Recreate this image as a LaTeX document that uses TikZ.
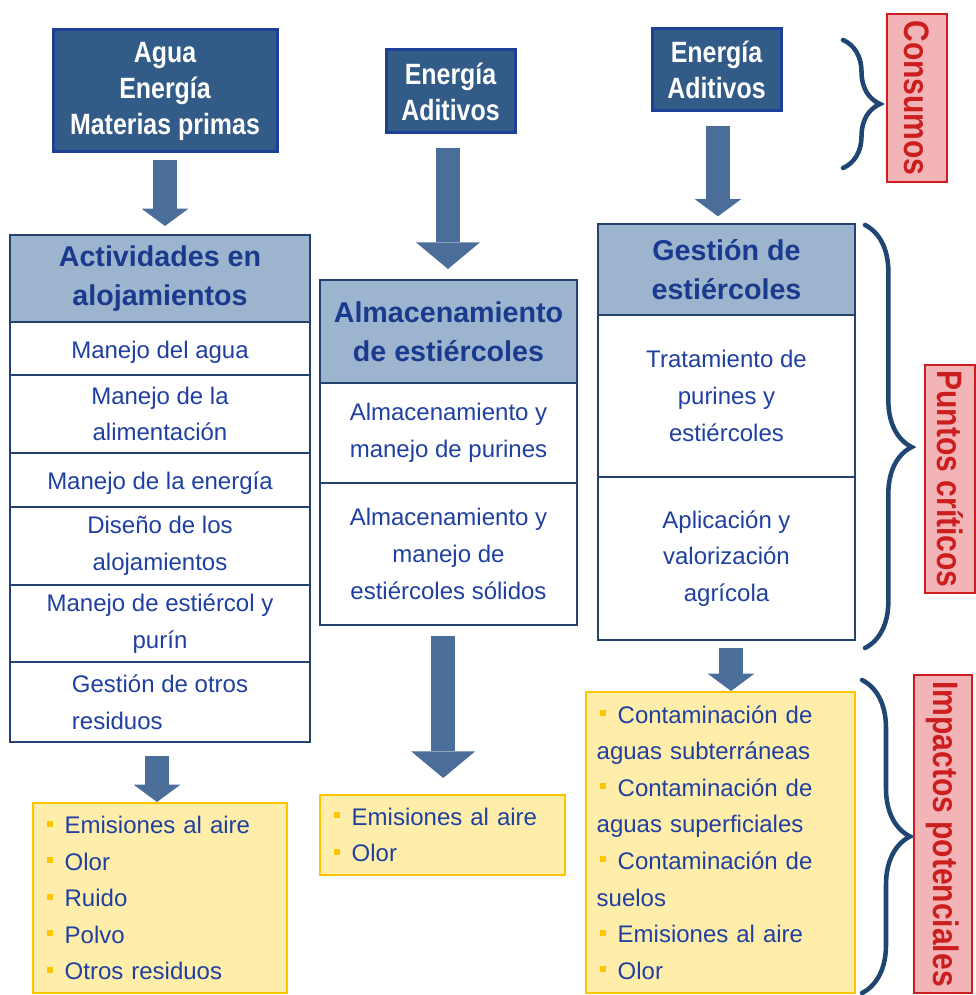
\documentclass[tikz,border=0pt]{standalone}
\usepackage{fontspec}
\setmainfont{Liberation Sans}
\newfontfamily\narrowfont[FakeStretch=0.85]{Liberation Sans}
\usetikzlibrary{arrows.meta,decorations.pathreplacing}

\definecolor{topblue}{HTML}{335B88}
\definecolor{topedge}{HTML}{1E3F96}
\definecolor{headblue}{HTML}{9DB4CE}
\definecolor{boxline}{HTML}{24426E}
\definecolor{celltext}{HTML}{1F40A0}
\definecolor{headtext}{HTML}{1A3A8E}
\definecolor{impactfill}{HTML}{FFEDAA}
\definecolor{gold}{HTML}{FFC600}
\definecolor{arrowblue}{HTML}{4A6D99}
\definecolor{bracecol}{HTML}{1F4673}
\definecolor{tagfill}{HTML}{F2B4B6}
\definecolor{tagred}{HTML}{CC1E1E}

\newcommand{\sqbul}{\hspace*{2.25pt}\textcolor{gold}{\rule[5.25pt]{4.5pt}{4.5pt}}\hspace{9pt}}

\begin{document}
\begin{tikzpicture}
        [x=0.75pt,y=-0.75pt,
         topbox/.style={fill=topblue,draw=topedge,line width=2.25pt,text=white,align=center,
           font=\narrowfont\bfseries\fontsize{22pt}{27pt}\selectfont},
         headbox/.style={fill=headblue,draw=boxline,line width=1.5pt,text=headtext,align=center,
           inner ysep=1pt,font=\bfseries\fontsize{21.5pt}{29pt}\selectfont},
         cell/.style={fill=white,draw=boxline,line width=1.5pt,text=celltext,align=center,
           execute at begin node={\rule{0pt}{1.0em}},
           inner ysep=1pt,font=\fontsize{18pt}{27.5pt}\selectfont},
         impact/.style={fill=impactfill,draw=gold,line width=1.5pt,text=celltext,align=left,
           inner xsep=8pt,inner ysep=1pt,font=\fontsize{18pt}{27.4pt}\selectfont},
         tag/.style={fill=tagfill,draw=tagred,line width=1.5pt,text=tagred,rotate=-90,
           inner sep=1pt,font=\narrowfont\bfseries\fontsize{26.5pt}{30pt}\selectfont},
         flow/.style={draw=arrowblue,line width=18pt},
         tipsmall/.style={-{Triangle[width=35pt,length=13pt,line width'=0pt]}},
         tipbig/.style={-{Triangle[width=48pt,length=20pt,line width'=0pt]}},
         curly/.style={draw=bracecol,line width=3.4pt,line cap=round,decorate}]
        \path[use as bounding box,fill=white] (0,0) rectangle (975,995);

        % consumos
        \node[topbox,minimum width=168pt,minimum height=91.5pt] (top1) at (165,91) {Agua\\Energía\\Materias primas};
        \node[topbox,minimum width=96.75pt,minimum height=62.25pt] (top2) at (450.5,91.5) {Energía\\Aditivos};
        \node[topbox,minimum width=96.75pt,minimum height=61.5pt] (top3) at (716.5,70) {Energía\\Aditivos};

        % puntos criticos
        \node[headbox,minimum width=225pt,minimum height=65.25pt] (head1) at (160,278.5) {Actividades en\\alojamientos};
        \node[cell,minimum width=225pt,minimum height=39.75pt] (a1) at (160,348.5) {Manejo del agua};
        \node[cell,minimum width=225pt,minimum height=58.5pt] (a2) at (160,414) {Manejo de la\\alimentación};
        \node[cell,minimum width=225pt,minimum height=40.5pt] (a3) at (160,480) {Manejo de la energía};
        \node[cell,minimum width=225pt,minimum height=58.5pt] (a4) at (160,546) {Diseño de los\\alojamientos};
        \node[cell,minimum width=225pt,minimum height=57.75pt] (a5) at (160,623.5) {Manejo de estiércol y\\purín};
        \node[cell,minimum width=225pt,minimum height=60pt,align=left] (a6) at (160,702) {Gestión de otros\\residuos};

        \node[headbox,minimum width=192.75pt,minimum height=77.25pt] (head2) at (448.5,331.5) {Almacenamiento\\de estiércoles};
        \node[cell,minimum width=192.75pt,minimum height=75pt] (b1) at (448.5,433) {Almacenamiento y\\manejo de purines};
        \node[cell,minimum width=192.75pt,minimum height=106.5pt] (b2) at (448.5,554) {Almacenamiento y\\manejo de\\estiércoles sólidos};

        \node[headbox,minimum width=192.75pt,minimum height=68.25pt] (head3) at (726.5,269.5) {Gestión de\\estiércoles};
        \node[cell,minimum width=192.75pt,minimum height=121.5pt] (c1) at (726.5,396) {Tratamiento de\\purines y\\estiércoles};
        \node[cell,minimum width=192.75pt,minimum height=122.25pt] (c2) at (726.5,558.5) {Aplicación y\\valorización\\agrícola};

        % impactos
        \node[impact,text width=174.5pt,minimum height=142.5pt] (e1) at (160,898)
            {\sqbul Emisiones al aire\\\sqbul Olor\\\sqbul Ruido\\\sqbul Polvo\\\sqbul Otros residuos};
        \node[impact,text width=167.75pt,minimum height=60pt] (e2) at (442.5,835)
            {\sqbul Emisiones al aire\\\sqbul Olor};
        \node[impact,text width=185.75pt,minimum height=225.75pt] (e3) at (720.5,842.5)
            {\sqbul Contaminación de\\aguas subterráneas\\\sqbul Contaminación de\\aguas superficiales\\
             \sqbul Contaminación de\\suelos\\\sqbul Emisiones al aire\\\sqbul Olor};

        \foreach \from/\to/\tip/\s/\e/\d in {top1/head1/tipsmall/5pt/6pt/0pt, top2/head2/tipbig/10.5pt/7.5pt/-1.9pt,
            top3/head3/tipsmall/10pt/5pt/1.1pt, a6/e1/tipsmall/10pt/0pt/-2.25pt,
            b2/e2/tipbig/7.5pt/12pt/-4pt, c2/e3/tipsmall/5pt/0pt/3.4pt}
            \draw[flow,\tip,shorten <=\s,shorten >=\e] ([xshift=\d]\from.south) -- ([xshift=\d]\from.south |- \to.north);

        % llaves y etiquetas
        \draw[curly,decoration={brace,amplitude=27.75pt}] (843,40) -- (843,168);
        \draw[curly,decoration={brace,amplitude=35pt,aspect=0.525}] (865,225) -- (865,648);
        \draw[curly,decoration={brace,amplitude=36pt}] (862,680) -- (862,993);

        \node[tag,minimum width=126pt,minimum height=45pt] (cons) at (917,98) {Consumos};
        \node[tag,minimum width=171pt,minimum height=37.5pt] (crit) at (950,479) {Puntos críticos};
        \node[tag,minimum width=238.5pt,minimum height=43.5pt] (imp) at (943,834) {Impactos potenciales};

      \end{tikzpicture}
\end{document}
